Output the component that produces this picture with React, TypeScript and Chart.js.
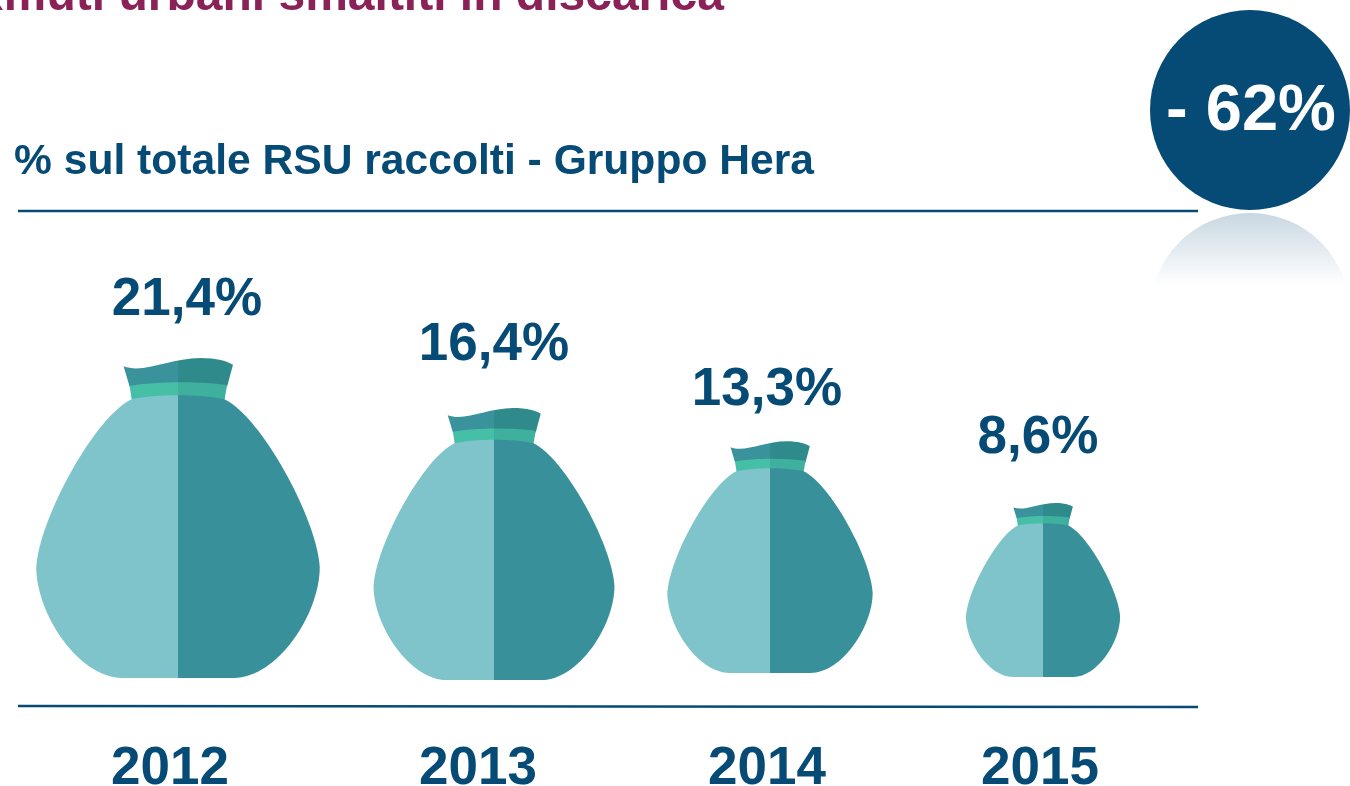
import React, { useEffect, useRef } from "react";
import { Chart, registerables } from "chart.js";

Chart.register(...registerables);

const years = ["2012", "2013", "2014", "2015"];
const landfillShare = [21.4, 16.4, 13.3, 8.6];
const pageTitle = "Rifiuti urbani smaltiti in discarica";
const subtitle = "% sul totale RSU raccolti - Gruppo Hera";
const badgeText = "- 62%";

const NAVY = "#064a76";
const FONT = '"Liberation Sans", Arial, sans-serif';

// Fine layout corrections per bag, in pixels / ratio
const bagDx = [-20, 8, -4, -19];
const bagDy = [0, 2, -5, -1];
const bagFit = [1, 1.034, 1.018, 1];
const yearDx = [-28, -8, -7, -22];
const valueDx = [-11, 8, -7, -24];
const valueBaseline = [315, 360, 405, 453];

type P = [number, number];
// Right half of the bag outline as cubic segments: unit coordinates, u 0..1 from the seam, v 0..1 top to bottom
const outlineStart: P = [0.327, 0.129];
const outline: [P, P, P][] = [
  [[0.58, 0.18], [0.98, 0.5], [1.0, 0.654]],
  [[1.0, 0.8], [0.7, 1], [0.393, 1]],
];

function drawBag(ctx: CanvasRenderingContext2D, cx: number, top: number, h: number) {
  const halfW = (h * 0.886) / 2;
  const m = (p: P): P => [cx + p[0] * halfW, top + p[1] * h];
  const split = (path: Path2D, left: string, right: string) => {
    ctx.save();
    ctx.clip(path);
    ctx.fillStyle = left;
    ctx.fillRect(cx - halfW - 2, top - 2, halfW + 2, h + 4);
    ctx.fillStyle = right;
    ctx.fillRect(cx, top - 2, halfW + 2, h + 4);
    ctx.restore();
  };
  const start = (path: Path2D, p: P) => {
    const s = m(p);
    path.moveTo(s[0], s[1]);
  };
  const line = (path: Path2D, p: P) => {
    const s = m(p);
    path.lineTo(s[0], s[1]);
  };
  const curve = (path: Path2D, a: P, b: P, c: P) => {
    const [p, q, r] = [m(a), m(b), m(c)];
    path.bezierCurveTo(p[0], p[1], q[0], q[1], r[0], r[1]);
  };

  const collar = new Path2D();
  start(collar, [-0.384, 0.026]);
  curve(collar, [-0.242, 0.05], [-0.054, 0], [0.158, 0]);
  curve(collar, [0.275, 0], [0.346, 0.01], [0.388, 0.021]);
  line(collar, [0.346, 0.09]);
  line(collar, [-0.341, 0.09]);
  collar.closePath();
  split(collar, "#3a929c", "#2f8b8b");

  const band = new Path2D();
  start(band, [-0.341, 0.087]);
  curve(band, [-0.15, 0.072], [0.15, 0.072], [0.346, 0.084]);
  line(band, [0.327, 0.135]);
  line(band, [-0.325, 0.135]);
  band.closePath();
  split(band, "#45bfa5", "#3fb09e");

  const body = new Path2D();
  start(body, outlineStart);
  outline.forEach(([a, b, c]) => curve(body, a, b, c));
  const flip = (p: P): P => [-p[0], p[1]];
  line(body, flip(outline[outline.length - 1][2]));
  for (let i = outline.length - 1; i >= 0; i--) {
    const end = i === 0 ? outlineStart : outline[i - 1][2];
    curve(body, flip(outline[i][1]), flip(outline[i][0]), flip(end));
  }
  curve(body, [-0.15, 0.112], [0.15, 0.112], outlineStart);
  body.closePath();
  split(body, "#7fc4ca", "#37909a");
}

const infographic = {
  id: "infographic",
  beforeDraw(chart: any) {
    const ctx: CanvasRenderingContext2D = chart.ctx;
    ctx.save();
    ctx.textBaseline = "alphabetic";

    ctx.fillStyle = "#8a2257";
    ctx.font = `bold 48px ${FONT}`;
    ctx.textAlign = "right";
    ctx.fillText(pageTitle, 724, 10);

    ctx.fillStyle = NAVY;
    ctx.font = `bold 42.6px ${FONT}`;
    ctx.textAlign = "left";
    ctx.fillText(subtitle, 14, 174);

    ctx.strokeStyle = NAVY;
    ctx.lineWidth = 2.7;
    ctx.beginPath();
    ctx.moveTo(18, 211);
    ctx.lineTo(1198, 211);
    ctx.moveTo(18, 706);
    ctx.lineTo(1198, 707);
    ctx.stroke();

    // Reflection under the badge
    ctx.save();
    ctx.beginPath();
    ctx.rect(1140, 212, 210, 74);
    ctx.clip();
    const g = ctx.createLinearGradient(0, 213, 0, 285);
    g.addColorStop(0, "rgba(6,74,118,0.22)");
    g.addColorStop(1, "rgba(6,74,118,0)");
    ctx.fillStyle = g;
    ctx.beginPath();
    ctx.arc(1250, 313, 100, 0, Math.PI * 2);
    ctx.fill();
    ctx.restore();

    ctx.fillStyle = NAVY;
    ctx.beginPath();
    ctx.arc(1250, 110, 100, 0, Math.PI * 2);
    ctx.fill();
    ctx.fillStyle = "#ffffff";
    ctx.font = `bold 65px ${FONT}`;
    ctx.textAlign = "center";
    ctx.fillText(badgeText, 1251, 130);
    ctx.restore();
  },
  afterDatasetsDraw(chart: any) {
    const ctx: CanvasRenderingContext2D = chart.ctx;
    const bars = chart.getDatasetMeta(0).data;
    const xScale = chart.scales.x;
    ctx.save();
    ctx.textAlign = "center";
    ctx.textBaseline = "alphabetic";
    bars.forEach((bar: any, i: number) => {
      const h = (bar.base - bar.y) * bagFit[i];
      drawBag(ctx, bar.x + bagDx[i], bar.base + bagDy[i] - h, h);
      ctx.fillStyle = NAVY;
      ctx.font = `bold 53px ${FONT}`;
      const text = landfillShare[i].toFixed(1).replace(".", ",") + "%";
      ctx.fillText(text, bar.x + valueDx[i], valueBaseline[i]);
      ctx.fillText(String(xScale.getLabelForValue(i)), xScale.getPixelForTick(i) + yearDx[i], 784);
    });
    ctx.restore();
  },
};

export default function App() {
  const ref = useRef<HTMLCanvasElement | null>(null);
  useEffect(() => {
    document.body.style.margin = "0";
    const chart = new Chart(ref.current as HTMLCanvasElement, {
      type: "bar",
      data: {
        labels: years,
        datasets: [
          { data: landfillShare, base: -6.67, backgroundColor: "rgba(0,0,0,0)", borderWidth: 0 } as any,
        ],
      },
      options: {
        animation: false,
        responsive: false,
        events: [],
        layout: { padding: { left: 54, right: 144, top: 211, bottom: 108 } },
        plugins: { legend: { display: false }, tooltip: { enabled: false }, title: { display: false } },
        scales: {
          x: { display: false, type: "category" },
          y: { display: false, min: -6.67, max: 34.3 },
        },
      },
      plugins: [infographic],
    });
    return () => chart.destroy();
  }, []);
  return <canvas ref={ref} width={1350} height={786} style={{ display: "block" }} />;
}
